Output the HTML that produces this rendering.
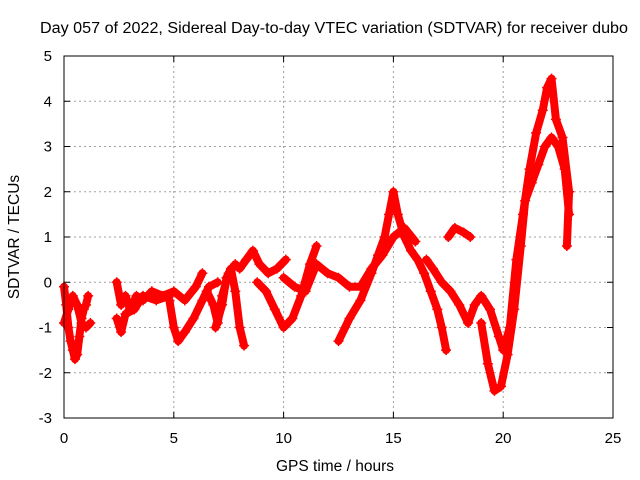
<!DOCTYPE html>
<html><head><meta charset="utf-8"><style>
body{margin:0;background:#fff}
svg{display:block;font-family:"Liberation Sans",sans-serif}
</style></head><body>
<svg id="chart" width="640" height="480">
<text x="334" y="33" font-size="15.5" text-anchor="middle" textLength="588" lengthAdjust="spacingAndGlyphs" fill="#000">Day 057 of 2022, Sidereal Day-to-day VTEC variation (SDTVAR) for receiver dubo</text>
<text x="335" y="471" font-size="15.5" text-anchor="middle">GPS time / hours</text>
<text x="19" y="237" font-size="15.5" text-anchor="middle" transform="rotate(-90 19 237)">SDTVAR / TECUs</text>
<g id="grid"></g><g id="ticks"></g><g id="marks"></g>
<rect x="64" y="56" width="549" height="362" fill="none" stroke="#000" stroke-width="1"/>
</svg>
<script>
const xTicks=[0,5,10,15,20,25];
const yTicks=[-3,-2,-1,0,1,2,3,4,5];
const trackA=[[0,-0.1],[0.1,-0.5],[0.2,-1.0],[0.3,-1.3],[0.4,-1.5],[0.5,-1.7],[0.6,-1.6],[0.7,-1.2],[0.8,-0.8],[0.9,-0.6],[1.0,-0.5],[1.1,-0.3]];
const trackA2=[[0,-0.9],[0.2,-0.6],[0.4,-0.3],[0.6,-0.5],[0.8,-0.9],[1.0,-1.0],[1.2,-0.9]];
const trackB=[[2.4,0],[2.6,-0.5],[2.8,-0.3],[3.0,-0.6],[3.3,-0.3],[3.6,-0.4],[4,-0.2],[4.5,-0.3],[5,-0.2],[5.5,-0.4],[6,-0.1],[6.3,0.2]];
const trackB2=[[2.4,-0.8],[2.6,-1.1],[2.8,-0.7],[3.2,-0.6],[3.6,-0.3],[4.2,-0.4],[4.8,-0.3]];
const trackC=[[4.8,-0.4],[5.0,-1.0],[5.2,-1.3],[5.5,-1.1],[5.9,-0.8],[6.3,-0.4],[6.6,-0.1],[7,0]];
const trackD=[[6.5,-0.2],[6.8,-0.5],[7,-0.9],[7.2,-0.3],[7.5,0.2],[7.8,0.4],[8,0.3],[8.3,0.5],[8.6,0.7],[8.9,0.4],[9.3,0.2],[9.7,0.3],[10.1,0.5]];
const trackE=[[6.9,-1.0],[7.2,-0.5],[7.4,0.1],[7.6,0.3],[7.8,-0.2],[8,-1.0],[8.2,-1.4]];
const trackF=[[8.8,0],[9.2,-0.2],[9.6,-0.6],[10,-1.0],[10.4,-0.8],[10.8,-0.3],[11.2,0.4],[11.5,0.8]];
const trackG=[[10,0.1],[10.5,-0.1],[11,-0.2],[11.5,0.4],[12,0.2],[12.5,0.1],[13,-0.1],[13.5,-0.1],[14,0.3],[14.5,0.6],[15,1.0],[15.5,1.2],[16,0.9]];
const trackH=[[12.5,-1.3],[13,-0.8],[13.5,-0.4],[14,0.2],[14.3,0.6],[14.6,1.0],[14.8,1.5],[15,2.0],[15.2,1.5],[15.5,1.0],[15.8,0.7],[16.1,0.5],[16.4,0.2],[16.7,-0.2],[17,-0.6],[17.2,-1.0],[17.4,-1.5]];
const trackI=[[16.5,0.5],[16.8,0.3],[17.2,0],[17.6,-0.2],[18,-0.5],[18.4,-0.9],[18.7,-0.5],[19,-0.3],[19.4,-0.6],[19.8,-1.2],[20,-1.5],[20.3,-1.0],[20.6,0.5],[20.9,1.5],[21.2,2.5],[21.5,3.3],[21.8,3.8],[22,4.3],[22.2,4.5],[22.4,3.6],[22.7,3.2],[23,2.0],[22.9,0.8]];
const trackJ=[[17.5,1.0],[17.8,1.2],[18.2,1.1],[18.5,1.0]];
const trackK=[[19,-0.9],[19.3,-1.8],[19.6,-2.4],[19.9,-2.3],[20.2,-1.6],[20.5,-0.6],[20.8,0.8],[21,1.8],[21.3,2.2],[21.6,2.6],[21.9,3.0],[22.2,3.2],[22.5,3.0],[22.8,2.5],[23,1.5]];
const tracks=[trackA,trackA2,trackB,trackB2,trackC,trackD,trackE,trackF,trackG,trackH,trackI,trackJ,trackK];
const NS="http://www.w3.org/2000/svg";
const X0=64,X1=613,Y0=418,Y1=56;
function sx(v){return X0+(v-0)/(25-0)*(X1-X0);}
function sy(v){return Y0-(v+3)/8*(Y0-Y1);}
const grid=document.getElementById('grid'),ticks=document.getElementById('ticks'),marks=document.getElementById('marks');
function mk(tag,attrs,parent){const e=document.createElementNS(NS,tag);for(const k in attrs)e.setAttribute(k,attrs[k]);parent.appendChild(e);return e;}
xTicks.forEach(v=>{
 const x=sx(v);
 if(v>0&&v<25){const g=mk('line',{x1:x,x2:x,y1:Y1,y2:Y0,stroke:'#a0a0a0','stroke-dasharray':'2,3'},grid);
 
 }
 mk('line',{x1:x,x2:x,y1:Y0,y2:Y0-6,stroke:'#000'},ticks);
 mk('line',{x1:x,x2:x,y1:Y1,y2:Y1+6,stroke:'#000'},ticks);
 const t=mk('text',{x:x,y:443,'font-size':15,'text-anchor':'middle'},ticks);t.textContent=v;
 
 
});
yTicks.forEach(v=>{
 const y=sy(v);
 if(v>-3&&v<5){const g=mk('line',{x1:X0,x2:X1,y1:y,y2:y,stroke:'#a0a0a0','stroke-dasharray':'2,3'},grid);
 
 }
 mk('line',{x1:X0,x2:X0+6,y1:y,y2:y,stroke:'#000'},ticks);
 mk('line',{x1:X1,x2:X1-6,y1:y,y2:y,stroke:'#000'},ticks);
 const t=mk('text',{x:52,y:y+5,'font-size':15,'text-anchor':'end'},ticks);t.textContent=v;
 
 
});
tracks.forEach(tr=>{
 const p=mk('polyline',{points:tr.map(d=>sx(d[0])+','+sy(d[1])).join(' '),fill:'none',stroke:'#ff0000','stroke-width':8,'stroke-linejoin':'round','stroke-linecap':'round'},marks);
 
 
 tr.forEach(d=>{
  const x=sx(d[0]),y=sy(d[1]);
  const m=mk('path',{d:`M${x-5},${y}H${x+5}M${x},${y-5}V${y+5}`,stroke:'#ff0000','stroke-width':1.5},marks);
  
  
 });
});
</script>
</body></html>
